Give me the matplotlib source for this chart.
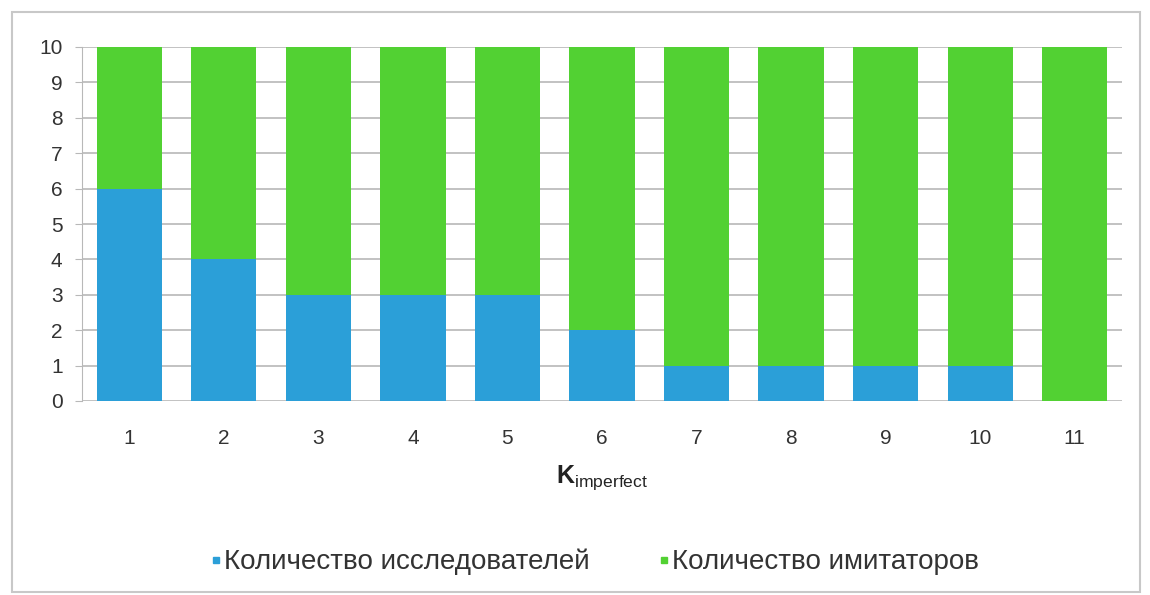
import numpy as np
import matplotlib.pyplot as plt
from matplotlib.patches import Rectangle
from matplotlib.lines import Line2D

plt.rcParams['font.family'] = ['Liberation Sans', 'DejaVu Sans']
plt.rcParams['mathtext.fontset'] = 'custom'
plt.rcParams['mathtext.rm'] = 'Liberation Sans'
plt.rcParams['mathtext.bf'] = 'Liberation Sans:bold'

# data
k_values = [1, 2, 3, 4, 5, 6, 7, 8, 9, 10, 11]
researchers = [6, 4, 3, 3, 3, 2, 1, 1, 1, 1, 0]
imitators = [4, 6, 7, 7, 7, 8, 9, 9, 9, 9, 10]
series_names = ["Количество исследователей", "Количество имитаторов"]

blue = "#2b9fd8"
green = "#52d133"
text_col = "#333333"

fig = plt.figure(figsize=(11.5, 5.95), dpi=100)
ax = fig.add_axes([82 / 1150, 1 - 401 / 595, (1122 - 82) / 1150, (401 - 47) / 595])

x = np.array(k_values)
ax.bar(x, researchers, width=0.69, color=blue, zorder=3)
ax.bar(x, imitators, width=0.69, bottom=researchers, color=green, zorder=3)

ax.set_xlim(0.5, 11.5)
ax.set_ylim(0, 10)
ax.set_yticks(range(0, 11))
ax.set_xticks(x)
ax.set_xticklabels([str(k) for k in k_values])
ax.yaxis.grid(True, color="#b8b8b8", linewidth=1.2, zorder=0)
for s in ["top", "right", "bottom"]:
    ax.spines[s].set_visible(False)
ax.spines["left"].set_color("#b8b8b8")
ax.tick_params(axis="y", length=5, color="#b8b8b8", labelsize=15, labelcolor=text_col, pad=9)
ax.tick_params(axis="x", length=0, labelsize=15, labelcolor=text_col, pad=20)

ax.set_xlabel(r"$\mathbf{K}_{\mathrm{imperfect}}$", fontsize=18, color="#222222", labelpad=11)

handles = [Line2D([], [], marker="s", linestyle="", color=blue, markersize=5),
           Line2D([], [], marker="s", linestyle="", color=green, markersize=5)]
fig.legend(handles, series_names, loc="center", bbox_to_anchor=(594 / 1150, 1 - 562 / 595),
           ncol=2, frameon=False, fontsize=20, handletextpad=0.05, columnspacing=2.4,
           labelcolor=text_col, handlelength=0.5)

# outer frame
fig.patches.append(Rectangle((12 / 1150, 3 / 595), 1128 / 1150, 580 / 595, transform=fig.transFigure,
                             fill=False, edgecolor="#c8c8c8", linewidth=1.5))

fig.savefig("out.png", dpi=100)
